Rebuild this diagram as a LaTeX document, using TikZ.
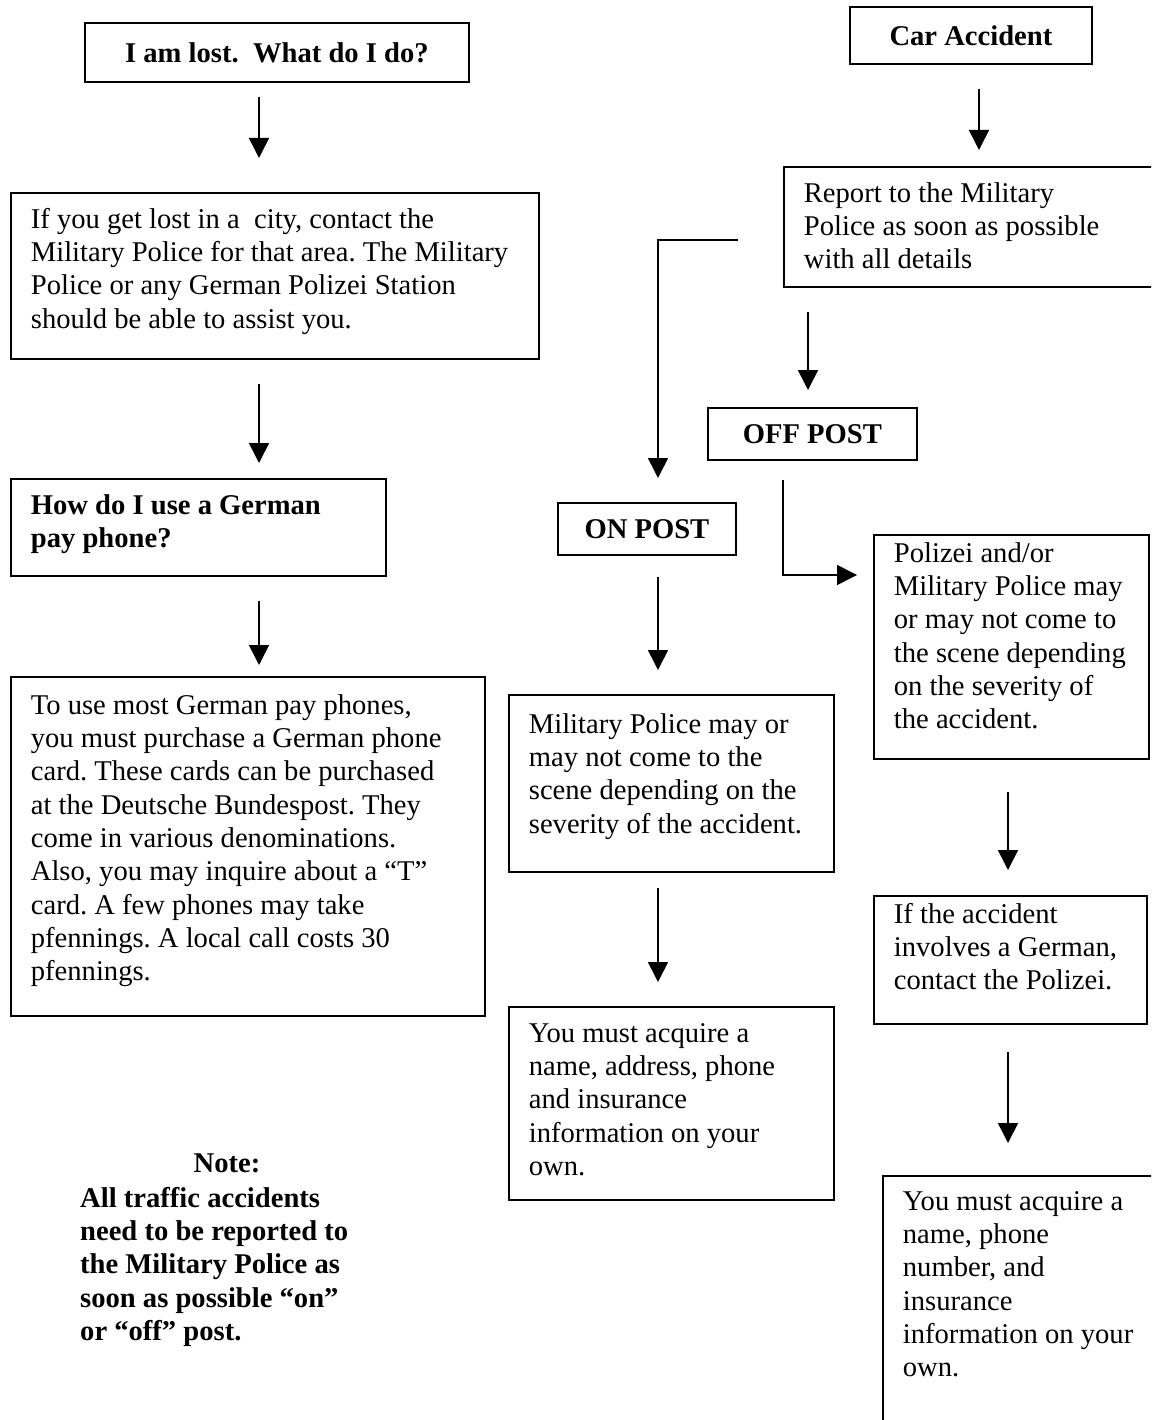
\documentclass[tikz,border=0pt]{standalone}
\usepackage{fontspec}
\setmainfont{Liberation Serif}
\usetikzlibrary{arrows.meta}
\frenchspacing

% text inside a box: width, height, space above the first line, text
\newcommand{\boxtxt}[4]{\parbox[c][#2][t]{#1}{\vspace*{#3}\raggedright\leftskip=20pt\strut #4}}

\begin{document}
\begin{tikzpicture}[x=1pt, y=1pt,
    font=\fontsize{28.6}{33.3}\selectfont,
    box/.style={draw, line width=1.8pt, inner sep=0pt, anchor=north west},
    head/.style={box, font=\fontsize{28.6}{33.3}\selectfont\bfseries},
    arr/.style={line width=1.6pt, -{Triangle[length=20pt,width=20pt]}}]

   \useasboundingbox (0,0) rectangle (1151,-1420);
   \clip (0,0) rectangle (1151,-1420);

% columns of the arrows
   \coordinate (colL) at (259,0);
   \coordinate (colOn) at (658,0);
   \coordinate (colOff) at (808,0);
   \coordinate (colElb) at (783,0);
   \coordinate (colCar) at (979,0);
   \coordinate (colPol) at (1008,0);

% left side: lost
   \node[head, minimum width=384pt, minimum height=59pt] (lost) at (84,-22) {I am lost.\ \ What do I do?};
   \node[box] (lostinfo) at (10,-192) {\boxtxt{528pt}{166pt}{12pt}{If you get lost in a \ city, contact the\\
      Military Police for that area. The Military\\
      Police or any German Polizei Station\\
      should be able to assist you.}};
   \node[box] (question) at (10,-478) {\boxtxt{375pt}{97pt}{12pt}{\bfseries How do I use a German\\pay phone?}};
   \node[box] (payinfo) at (10,-676) {\boxtxt{474pt}{339pt}{14pt}{To use most German pay phones,\\
      you must purchase a German phone\\
      card. These cards can be purchased\\
      at the Deutsche Bundespost. They\\
      come in various denominations.\\
      Also, you may inquire about a “T”\\
      card. A few phones may take\\
      pfennings. A local call costs 30\\
      pfennings.}};

   \node[font=\fontsize{28.6}{33.3}\selectfont\bfseries] (notehead) at (227,-1163) {Note:};
   \node[anchor=north west, inner sep=0pt, align=left, font=\fontsize{28.6}{33.3}\selectfont\bfseries] (notebody) at (80,-1187)
      {All traffic accidents\\need to be reported to\\the Military Police as\\soon as possible “on”\\or “off” post.};

% right side: car accident
   \node[head, minimum width=242pt, minimum height=57pt] (car) at (849,-6) {Car Accident};
   \node[box] (report) at (783,-166) {\boxtxt{420pt}{120pt}{12pt}{Report to the Military\\
      Police as soon as possible\\
      with all details}};
   \node[head, minimum width=209pt, minimum height=52pt] (offpost) at (707,-407) {OFF POST};
   \node[head, minimum width=178pt, minimum height=52pt] (onpost) at (557,-502) {ON POST};
   \node[box] (mponpost) at (508,-694) {\boxtxt{325pt}{177pt}{15pt}{Military Police may or\\
      may not come to the\\
      scene depending on the\\
      severity of the accident.}};
   \node[box] (acquireon) at (508,-1006) {\boxtxt{325pt}{193pt}{12pt}{You must acquire a\\
      name, address, phone\\
      and insurance\\
      information on your\\
      own.}};
   \node[box] (polizei) at (873,-534) {\boxtxt{275pt}{224pt}{4pt}{Polizei and/or\\
      Military Police may\\
      or may not come to\\
      the scene depending\\
      on the severity of\\
      the accident.}};
   \node[box] (involves) at (873,-895) {\boxtxt{273pt}{128pt}{4pt}{If the accident\\
      involves a German,\\
      contact the Polizei.}};
   \node[box] (acquireoff) at (882,-1175) {\boxtxt{300pt}{300pt}{11pt}{You must acquire a\\
      name, phone\\
      number, and\\
      insurance\\
      information on your\\
      own.}};

% arrows
   \draw[arr, shorten <=14pt, shorten >=34pt] (lost.south -| colL) -- (lostinfo.north -| colL);
   \draw[arr, shorten <=24pt, shorten >=15pt] (lostinfo.south -| colL) -- (question.north -| colL);
   \draw[arr, shorten <=24pt, shorten >=11pt] (question.south -| colL) -- (payinfo.north -| colL);

   \draw[arr, shorten <=24pt, shorten >=16pt] (car.south -| colCar) -- (report.north -| colCar);
   \draw[arr, shorten <=24pt, shorten >=17pt] (report.south -| colOff) -- (offpost.north -| colOff);
   \draw[arr, shorten <=45pt, shorten >=24pt] ([yshift=-13pt]report.west) -| (onpost.north -| colOn);
   \draw[arr, shorten <=19pt, shorten >=16pt] (offpost.south -| colElb) |- ([yshift=-41pt]polizei.north west);
   \draw[arr, shorten <=21pt, shorten >=24pt] (onpost.south -| colOn) -- (mponpost.north -| colOn);
   \draw[arr, shorten <=15pt, shorten >=24pt] (mponpost.south -| colOn) -- (acquireon.north -| colOn);
   \draw[arr, shorten <=32pt, shorten >=25pt] (polizei.south -| colPol) -- (involves.north -| colPol);
   \draw[arr, shorten <=27pt, shorten >=32pt] (involves.south -| colPol) -- (acquireoff.north -| colPol);

\end{tikzpicture}
\end{document}
